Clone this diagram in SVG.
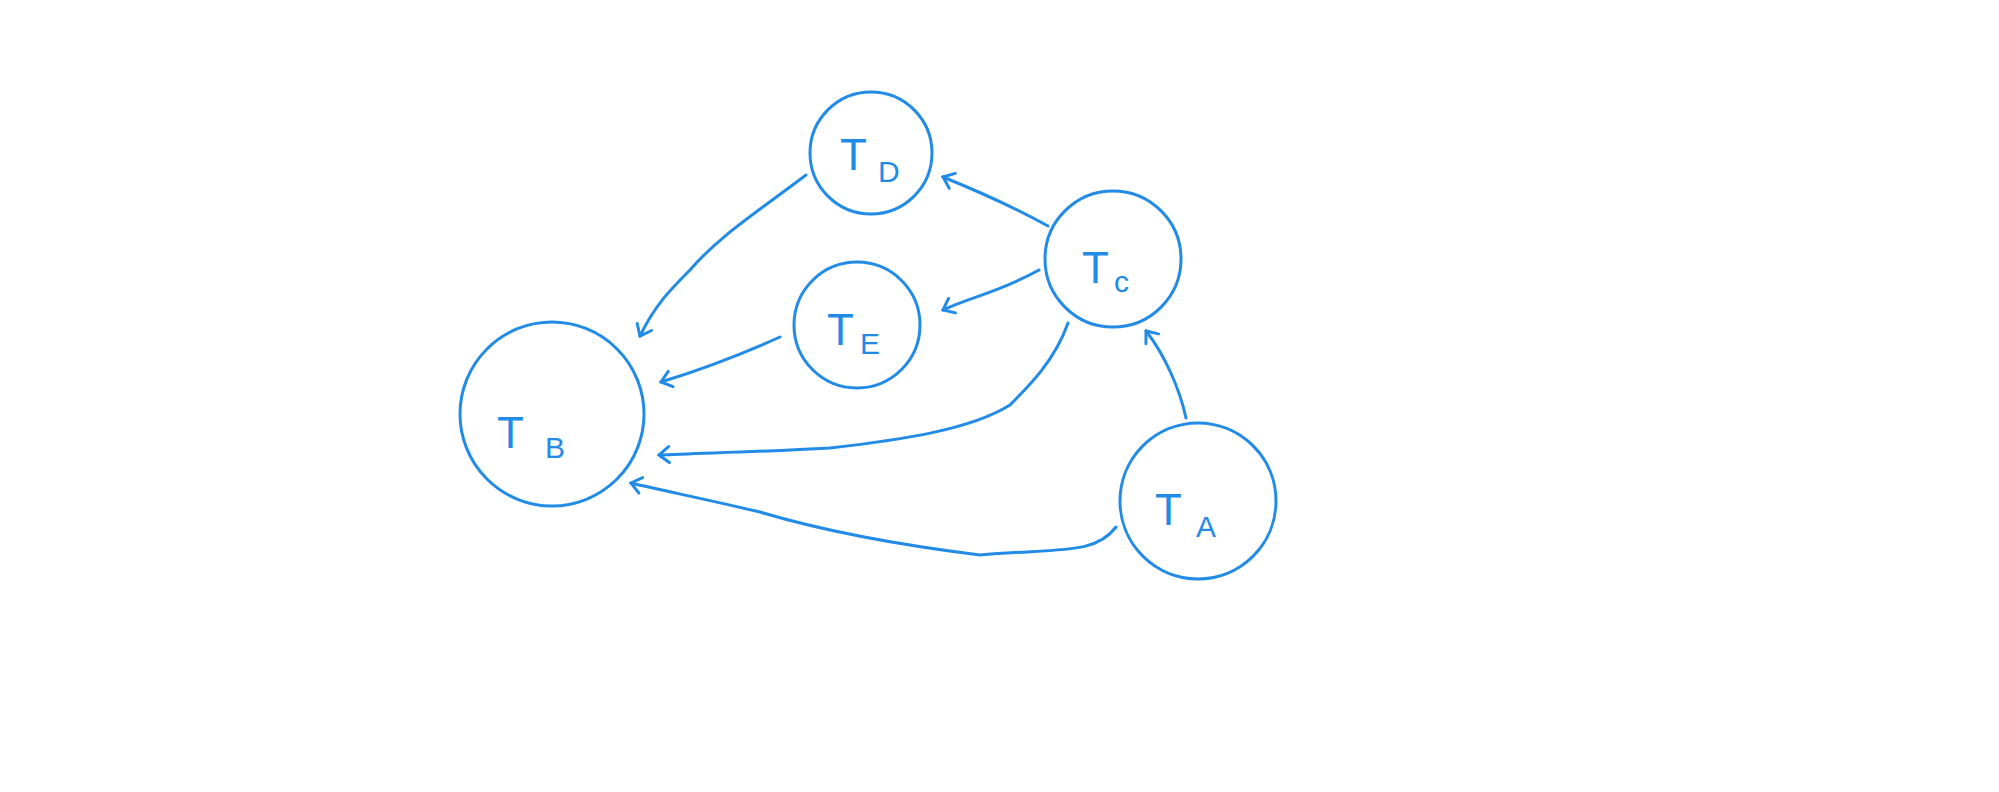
<svg xmlns="http://www.w3.org/2000/svg" width="1999" height="792" viewBox="0 0 1999 792">
<style>
.n{fill:none;stroke:#228be6;stroke-width:3;stroke-linecap:round;stroke-linejoin:round}
.e{fill:none;stroke:#228be6;stroke-width:3;stroke-linecap:round;stroke-linejoin:round;marker-end:url(#a)}
text{font-family:"Liberation Sans",Arial,sans-serif;fill:#228be6;font-size:44px}
.s{font-size:30px}
</style>
<defs>
<marker id="a" viewBox="0 0 20 20" refX="18" refY="10" markerWidth="20" markerHeight="20" markerUnits="userSpaceOnUse" orient="auto">
<path d="M8 2 L18 10 L8 18" fill="none" stroke="#228be6" stroke-width="3" stroke-linecap="round"/>
</marker>
</defs>
<rect width="1999" height="792" fill="#fff"/>
<g id="edges">
<path class="e" d="M806 175 C760 210 720 235 690 270 C670 290 655 305 640 336"/>
<path class="e" d="M1048 226 C1010 205 975 190 943 177"/>
<path class="e" d="M1039 270 C1000 292 970 297 943 310"/>
<path class="e" d="M780 337 C740 355 700 370 661 382"/>
<path class="e" d="M1068 323 C1055 360 1030 385 1010 405 C970 430 900 440 830 448 C760 452 700 453 659 455"/>
<path class="e" d="M1186 418 C1180 390 1165 355 1146 331"/>
<path class="e" d="M1116 527 C1095 555 1060 548 980 555 C900 545 820 530 760 512 C700 498 660 490 631 483"/>
</g>
<g id="TD"><circle class="n" cx="871" cy="153" r="61"/><text x="840" y="170">T</text><text class="s" x="878" y="182">D</text></g>
<g id="TC"><circle class="n" cx="1113" cy="259" r="68"/><text x="1082" y="283">T</text><text class="s" x="1114" y="292">c</text></g>
<g id="TE"><circle class="n" cx="857" cy="325" r="63"/><text x="827" y="345">T</text><text class="s" x="860" y="354">E</text></g>
<g id="TB"><circle class="n" cx="552" cy="414" r="92"/><text x="497" y="448">T</text><text class="s" x="545" y="458">B</text></g>
<g id="TA"><circle class="n" cx="1198" cy="501" r="78"/><text x="1155" y="525">T</text><text class="s" x="1196" y="537">A</text></g>
</svg>
